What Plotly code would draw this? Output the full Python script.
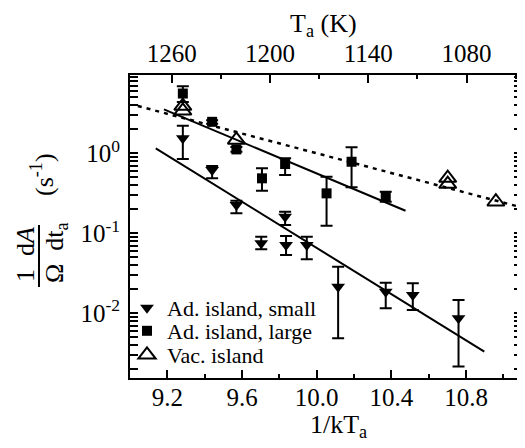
import plotly.graph_objects as go

# ---------------- data ----------------
# Ad. island, small (filled down triangles)
small_x = [9.283, 9.44, 9.57, 9.703, 9.831, 9.836, 9.947, 10.115, 10.37, 10.515, 10.76]
small_y = [1.54, 0.618, 0.226, 0.075, 0.161, 0.0714, 0.0714, 0.0215, 0.0186, 0.0169, 0.00866]
small_hi = [2.21, 0.694, 0.256, 0.0907, 0.186, 0.0925, 0.0907, 0.0382, 0.0241, 0.0237, 0.01466]
small_lo = [0.85, 0.487, 0.178, 0.063, 0.127, 0.0535, 0.0473, 0.00487, 0.01155, 0.011, 0.00215]

# Ad. island, large (filled squares)
large_x = [9.283, 9.44, 9.57, 9.707, 9.831, 10.053, 10.187, 10.37]
large_y = [5.6, 2.48, 1.12, 0.487, 0.735, 0.316, 0.785, 0.292]
large_hi = [6.9, 2.6, 1.2, 0.65, 0.866, 0.51, 1.19, 0.331]
large_lo = [4.4, 2.35, 1.05, 0.341, 0.535, 0.124, 0.376, 0.248]

# Vac. island (open triangles)
vac_x = [9.283, 9.283, 9.57, 10.702, 10.702, 10.96]
vac_y = [3.9, 3.4, 1.47, 0.491, 0.413, 0.248]

# fitted lines
fit_small_x = [9.138, 10.898]
fit_small_y = [1.155, 0.00331]
fit_large_x = [9.182, 10.476]
fit_large_y = [3.55, 0.1916]
fit_vac_x = [9.042, 11.084]
fit_vac_y = [3.91, 0.215]

# axes ticks
bottom_ticks = [9.2, 9.6, 10.0, 10.4, 10.8]
bottom_labels = ["9.2", "9.6", "10.0", "10.4", "10.8"]
top_ticks = [1260, 1200, 1140, 1080]
y_ticks = [1, 0.1, 0.01]
y_labels = ["10<sup>0</sup>", "10<sup>-1</sup>", "10<sup>-2</sup>"]

# ---------------- layout helpers ----------------
OFF = 8                      # page body margin of the browser
W, H = 525 - OFF, 448 - OFF
L, R, T, B = 130, 522, 75, 378   # plot frame in screen pixels
FONT = "Liberation Serif"


def px(x):
    return (x - L) / (R - L)


def py(y):
    return (B - y) / (B - T)


def err(y, hi, lo):
    return dict(type="data", symmetric=False,
                array=[h - v for h, v in zip(hi, y)],
                arrayminus=[v - l for v, l in zip(y, lo)],
                color="black", thickness=2, width=6)


fig = go.Figure()

# fit lines
fig.add_trace(go.Scatter(x=fit_small_x, y=fit_small_y, mode="lines",
                         line=dict(color="black", width=2), showlegend=False, hoverinfo="skip"))
fig.add_trace(go.Scatter(x=fit_large_x, y=fit_large_y, mode="lines",
                         line=dict(color="black", width=2), showlegend=False, hoverinfo="skip"))
fig.add_trace(go.Scatter(x=fit_vac_x, y=fit_vac_y, mode="lines",
                         line=dict(color="black", width=2.5, dash="4px,5px"), showlegend=False,
                         hoverinfo="skip"))

fig.add_trace(go.Scatter(x=small_x, y=small_y, mode="markers", name="Ad. island, small",
                         legend="legend",
                         marker=dict(symbol="triangle-down", size=12, color="black"),
                         error_y=err(small_y, small_hi, small_lo)))
fig.add_trace(go.Scatter(x=large_x, y=large_y, mode="markers", name="Ad. island, large",
                         legend="legend2",
                         marker=dict(symbol="square", size=10, color="black"),
                         error_y=err(large_y, large_hi, large_lo)))
fig.add_trace(go.Scatter(x=vac_x, y=vac_y, mode="markers", name="Vac. island",
                         legend="legend3",
                         marker=dict(symbol="triangle-up-open", size=15, color="black",
                                     line=dict(width=2))))

# invisible trace to anchor top axis
fig.add_trace(go.Scatter(x=[top_ticks[0]], y=[1], xaxis="x2", mode="markers",
                         marker=dict(opacity=0), showlegend=False, hoverinfo="skip"))

minor_y = [m * 10 ** e for e in range(-3, 1) for m in range(2, 10)]


def leg(ycen):
    return dict(x=px(127), y=py(ycen), xanchor="left", yanchor="middle",
                bgcolor="rgba(0,0,0,0)", font=dict(family=FONT, size=22, color="black"),
                itemwidth=30, borderwidth=0)


fig.update_layout(
    width=W, height=H,
    margin=dict(l=L - OFF, r=W - (R - OFF), t=T - OFF, b=H - (B - OFF), autoexpand=False),
    paper_bgcolor="white", plot_bgcolor="white",
    font=dict(family=FONT, size=25, color="black"),
    showlegend=True,
    legend=leg(308), legend2=leg(331), legend3=leg(355),
    xaxis=dict(range=[9.0, 11.1], tickvals=bottom_ticks, ticktext=bottom_labels,
               ticks="inside", ticklen=8, tickwidth=2, tickcolor="black",
               ticklabelstandoff=-4, tickfont=dict(size=25),
               showline=True, linewidth=2, linecolor="black", mirror=False,
               showgrid=False, zeroline=False, automargin=False,
               minor=dict(ticks="inside", ticklen=4, tickwidth=1.5, dtick=0.2,
                          tick0=9.0, tickcolor="black", showgrid=False)),
    xaxis2=dict(overlaying="x", side="top", anchor="y",
                range=[1285.4, 1046.2], tickvals=top_ticks,
                ticks="inside", ticklen=8, tickwidth=2, tickcolor="black",
                ticklabelstandoff=1, tickfont=dict(size=25),
                showline=True, linewidth=2, linecolor="black",
                showgrid=False, zeroline=False, automargin=False,
                minor=dict(ticks="inside", ticklen=4, tickwidth=1.5, dtick=30,
                           tick0=1050, tickcolor="black", showgrid=False)),
    yaxis=dict(type="log", range=[-2.81, 0.98],
               tickvals=y_ticks, ticktext=y_labels,
               ticks="inside", ticklen=8, tickwidth=2, tickcolor="black",
               ticklabelstandoff=3, tickfont=dict(size=25),
               showline=True, linewidth=2, linecolor="black", mirror="allticks",
               showgrid=False, zeroline=False, automargin=False,
               minor=dict(ticks="inside", ticklen=4, tickwidth=1.5,
                          tickvals=minor_y, tickcolor="black", showgrid=False)),
)

# axis titles as annotations
anns = [
    dict(x=px(323), y=py(25), text="T<sub>a</sub> (K)"),
    dict(x=px(338), y=py(426), text="1/kT<sub>a</sub>"),
    dict(x=px(25), y=py(255), text="1  d<i>A</i>", textangle=-90),
    dict(x=px(56), y=py(253), text="Ω  dt<sub>a</sub>", textangle=-90),
    dict(x=px(42), y=py(175), text="(s<sup>-1</sup>)", textangle=-90),
]
for a in anns:
    fig.add_annotation(xref="paper", yref="paper", showarrow=False,
                       xanchor="center", yanchor="middle",
                       font=dict(family=FONT, size=26, color="black"), **a)

fig.add_shape(type="line", xref="paper", yref="paper",
              x0=px(39), x1=px(39), y0=py(225), y1=py(287),
              line=dict(color="black", width=2))

fig.write_html("out.html")
